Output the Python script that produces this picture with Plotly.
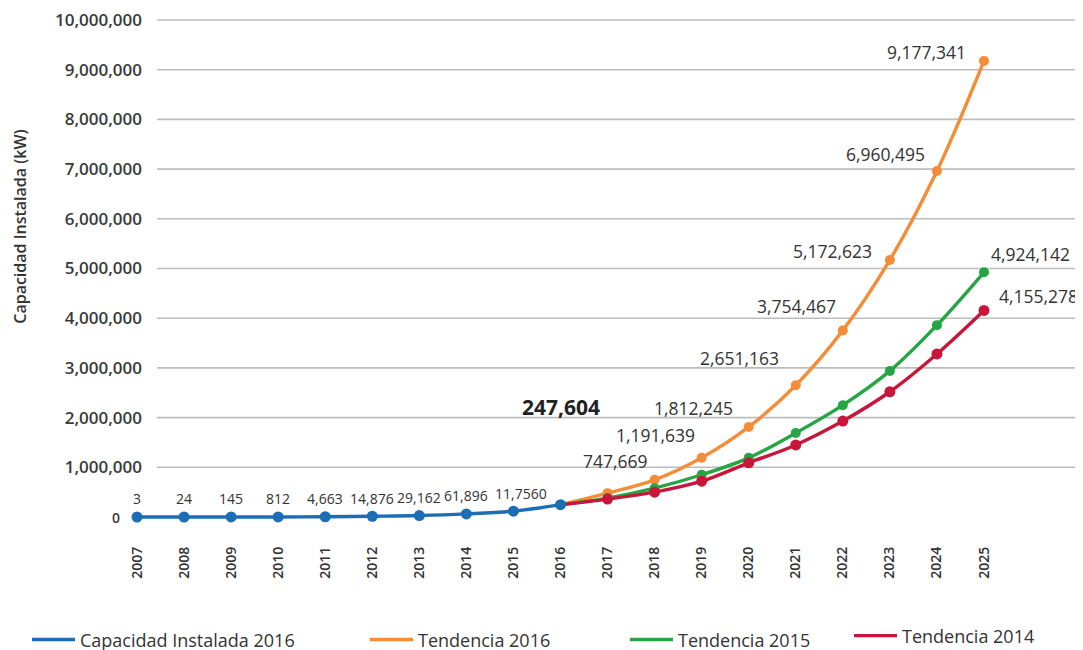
import plotly.graph_objects as go

# ---------------- data ----------------
years_hist = [2007, 2008, 2009, 2010, 2011, 2012, 2013, 2014, 2015, 2016]
capacidad_2016 = [3, 24, 145, 812, 4663, 14876, 29162, 61896, 117560, 247604]
hist_labels = ["3", "24", "145", "812", "4,663", "14,876", "29,162", "61,896", "11,7560"]
label_2016 = "247,604"

years_proj = [2016, 2017, 2018, 2019, 2020, 2021, 2022, 2023, 2024, 2025]
tendencia_2016 = [247604, 480000, 747669, 1191639, 1812245, 2651163, 3754467, 5172623, 6960495, 9177341]
tendencia_2015 = [247604, 380000, 580000, 850000, 1190000, 1690000, 2250000, 2940000, 3860000, 4924142]
tendencia_2014 = [247604, 360000, 500000, 720000, 1090000, 1450000, 1930000, 2520000, 3280000, 4155278]
t2016_labels = ["", "", "747,669", "1,191,639", "1,812,245", "2,651,163", "3,754,467", "5,172,623", "6,960,495", "9,177,341"]
t2015_last_label = "4,924,142"
t2014_last_label = "4,155,278"

y_ticks = [0, 1000000, 2000000, 3000000, 4000000, 5000000, 6000000, 7000000, 8000000, 9000000, 10000000]
x_ticks = list(range(2007, 2026))

series_names = ["Capacidad Instalada 2016", "Tendencia 2016", "Tendencia 2015", "Tendencia 2014"]

# ---------------- style ----------------
C_BLUE = "#1b6db5"
C_ORANGE = "#f58d38"
C_GREEN = "#26a544"
C_RED = "#c8163a"
TXT = "#333333"
FONT = "Open Sans"

# per-label offsets (px) for the Tendencia 2016 labels
t16_dx = [0, 0, -5, -5, -14, -15, -5, -16, -10, -16]
t16_dy = [0, 0, 19, 23, 19, 27, 24, 9, 17, 9]

fig = go.Figure()

def add_series(x, y, color, name, legend, line_w=3.4):
    fig.add_trace(go.Scatter(
        x=x, y=y, mode="lines", name=name, legend=legend,
        line=dict(color=color, width=line_w, shape="spline", smoothing=1.0),
        hoverinfo="skip", showlegend=True))

def add_markers(x, y, color, msize):
    fig.add_trace(go.Scatter(
        x=x, y=y, mode="markers", showlegend=False,
        marker=dict(color=color, size=msize), cliponaxis=False))

add_series(years_proj, tendencia_2016, C_ORANGE, series_names[1], "legend2")
add_series(years_proj, tendencia_2015, C_GREEN, series_names[2], "legend3")
add_series(years_proj, tendencia_2014, C_RED, series_names[3], "legend4")
add_markers(years_proj[1:], tendencia_2016[1:], C_ORANGE, 10)
add_markers(years_proj[1:], tendencia_2015[1:], C_GREEN, 10)
add_markers(years_proj[1:], tendencia_2014[1:], C_RED, 11)
add_series(years_hist, capacidad_2016, C_BLUE, series_names[0], "legend")
add_markers(years_hist, capacidad_2016, C_BLUE, 11)

annotations = []
# historical labels
for xv, yv, t in zip(years_hist[:-1], capacidad_2016[:-1], hist_labels):
    annotations.append(dict(x=xv, y=yv, text=t, showarrow=False, xanchor="center",
                            yanchor="middle", yshift=18,
                            xshift=8 if xv == 2015 else 0,
                            font=dict(family=FONT, size=14, color=TXT)))
annotations.append(dict(x=years_hist[-1], y=capacidad_2016[-1], text="<b>" + label_2016 + "</b>",
                        showarrow=False, xanchor="center", yanchor="middle", yshift=98,
                        font=dict(family=FONT, size=21, color="#222222")))
# Tendencia 2016 labels
for i, (xv, yv, t) in enumerate(zip(years_proj, tendencia_2016, t2016_labels)):
    if not t:
        continue
    annotations.append(dict(x=xv, y=yv, text=t, showarrow=False, xanchor="right",
                            yanchor="middle", xshift=t16_dx[i], yshift=t16_dy[i],
                            font=dict(family=FONT, size=17.5, color=TXT)))
annotations.append(dict(x=years_proj[-1], y=tendencia_2015[-1], text=t2015_last_label,
                        showarrow=False, xanchor="left", yanchor="middle", xshift=5, yshift=18,
                        font=dict(family=FONT, size=17.5, color=TXT)))
annotations.append(dict(x=years_proj[-1], y=tendencia_2014[-1], text=t2014_last_label,
                        showarrow=False, xanchor="left", yanchor="middle", xshift=13, yshift=14,
                        font=dict(family=FONT, size=17.5, color=TXT)))
# y-axis title
annotations.append(dict(xref="paper", yref="paper", x=-0.0925, y=0.587, text="Capacidad Instalada (kW)",
                        textangle=-90, showarrow=False, xanchor="center", yanchor="middle",
                        font=dict(family=FONT, size=16, color=TXT, weight=600)))

# gridlines (start a bit right of the first point, as in the reference)
shapes = [dict(type="line", xref="paper", yref="y", x0=0.0483, x1=1, y0=v, y1=v,
               line=dict(color="#bdbdbd", width=1.6), layer="below")
          for v in y_ticks if v > 0]

y_text = ["<span style='font-size:14px'>0</span>" + "\u00a0" * 5] + [f"{v:,}" for v in y_ticks[1:]]

legend_common = dict(orientation="h", xref="container", yref="container", y=0.028,
                     yanchor="middle", xanchor="left", bgcolor="rgba(0,0,0,0)",
                     itemwidth=43,
                     font=dict(family=FONT, size=18, color=TXT))

fig.update_layout(
    width=1083, height=650,
    margin=dict(l=102, r=8, t=4, b=126, autoexpand=False),
    plot_bgcolor="white", paper_bgcolor="white",
    xaxis=dict(range=[2006.426, 2027.104], tickvals=x_ticks, ticktext=[str(v) for v in x_ticks],
               tickangle=-90, showgrid=False, zeroline=False, showline=False, ticks="",
               automargin=False,
               tickfont=dict(family=FONT, size=14, color=TXT, weight=600), ticklabelstandoff=11),
    yaxis=dict(range=[-302000, 10161000], tickvals=y_ticks, ticktext=y_text,
               showgrid=False, zeroline=False, showline=False, ticks="", automargin=False,
               ticklabeloverflow="allow",
               tickfont=dict(family=FONT, size=17, color="#3a3a3a", weight=600),
               ticklabelstandoff=-33),
    shapes=shapes,
    annotations=annotations,
    legend=dict(legend_common, x=19 / 1083),
    legend2=dict(legend_common, x=357 / 1083),
    legend3=dict(legend_common, x=617 / 1083),
    legend4=dict(legend_common, x=841 / 1083, y=0.034),
)

fig.write_html("out.html")
